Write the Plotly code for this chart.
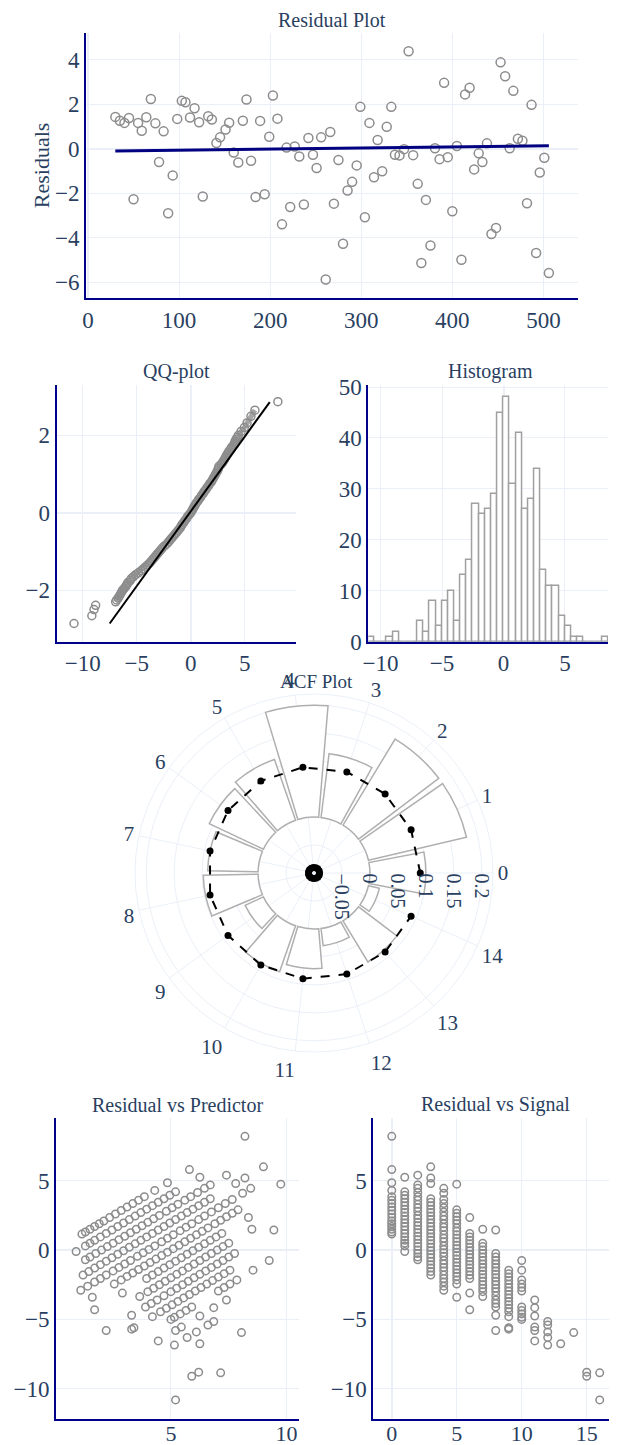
import plotly.graph_objects as go

# ---------------- data ----------------
ts_x = [30, 35, 40, 45, 50, 55, 59, 64, 69, 74, 78, 83, 88, 93, 98, 103, 107, 112, 117, 122,
        126, 132, 136, 141, 145, 151, 155, 160, 165, 170, 174, 179, 184, 189, 194, 199, 203, 208, 213, 218,
        222, 227, 232, 237, 242, 247, 251, 256, 261, 266, 270, 275, 280, 285, 290, 295, 299, 304, 309, 314,
        318, 323, 328, 333, 337, 342, 347, 352, 357, 362, 366, 371, 376, 381, 386, 391, 395, 400, 405, 410,
        414, 419, 424, 429, 433, 438, 443, 448, 453, 458, 463, 467, 472, 477, 482, 487, 492, 496, 501, 506]
ts_resid = [1.43, 1.26, 1.16, 1.38, -2.27, 1.16, 0.81, 1.41, 2.23, 1.14, -0.6, 0.78, -2.9, -1.2, 1.34,
            2.15, 2.09, 1.4, 1.82, 1.19, -2.15, 1.46, 1.31, 0.26, 0.51, 0.86, 1.17, -0.17, -0.62, 1.26,
            2.21, -0.54, -2.17, 1.25, -2.05, 0.54, 2.39, 1.35, -3.4, 0.05, -2.62, 0.1, -0.35, -2.51, 0.48,
            -0.27, -0.87, 0.51, -5.88, 0.75, -2.47, -0.51, -4.27, -1.88, -1.49, -0.75, 1.88, -3.08, 1.16, -1.28,
            0.39, -1.01, 0.99, 1.88, -0.27, -0.3, -0.02, 4.38, -0.29, -1.58, -5.14, -2.3, -4.35, 0.02, -0.47,
            2.96, -0.38, -2.81, 0.12, -4.99, 2.44, 2.74, -0.93, -0.21, -0.6, 0.24, -3.83, -3.56, 3.88, 3.26,
            0.02, 2.6, 0.45, 0.36, -2.45, 1.97, -4.69, -1.07, -0.41, -5.59]
trend_x = [30, 506]
trend_y = [-0.1, 0.13]

# QQ-plot: isolated tail points and the dense central band
qq_tail_sample = [-10.8, -9.15, -8.95, -8.8, 8.05]
qq_tail_theory = [-2.86, -2.66, -2.5, -2.39, 2.87]
qq_sample = [-6.95, -6.85, -6.7, -6.6, -6.5, -6.4, -6.3, -6.15, -6.0, -5.9,
             -5.8, -5.6, -5.5, -5.3, -5.1, -4.85, -4.6, -4.4, -4.2, -4.0,
             -3.8, -3.65, -3.5, -3.35, -3.2, -3.05, -2.9, -2.75, -2.6, -2.4,
             -2.2, -2.05, -1.9, -1.75, -1.6, -1.45, -1.3, -1.15, -1.0, -0.9,
             -0.8, -0.65, -0.55, -0.4, -0.3, -0.15, 0.0, 0.1, 0.2, 0.3,
             0.4, 0.5, 0.65, 0.75, 0.9, 1.0, 1.15, 1.25, 1.4, 1.5,
             1.65, 1.75, 1.9, 2.0, 2.1, 2.2, 2.3, 2.4, 2.5, 2.55,
             2.6, 2.8, 2.95, 3.05, 3.15, 3.25, 3.35, 3.45, 3.55, 3.7,
             3.8, 3.95, 4.05, 4.1, 4.2, 4.3, 4.4, 4.65, 4.95, 5.2,
             5.56, 5.93]
qq_theory = [-2.3, -2.25, -2.2, -2.15, -2.1, -2.05, -2.0, -1.95, -1.9, -1.85,
             -1.8, -1.75, -1.7, -1.65, -1.6, -1.55, -1.5, -1.45, -1.4, -1.35,
             -1.3, -1.25, -1.2, -1.15, -1.1, -1.05, -1.0, -0.95, -0.9, -0.85,
             -0.8, -0.75, -0.7, -0.65, -0.6, -0.55, -0.5, -0.45, -0.4, -0.35,
             -0.3, -0.25, -0.2, -0.15, -0.1, -0.05, 0.0, 0.05, 0.1, 0.15,
             0.2, 0.25, 0.3, 0.35, 0.4, 0.45, 0.5, 0.55, 0.6, 0.65,
             0.7, 0.75, 0.8, 0.85, 0.9, 0.95, 1.0, 1.05, 1.1, 1.15,
             1.2, 1.25, 1.3, 1.35, 1.4, 1.45, 1.5, 1.55, 1.6, 1.65,
             1.7, 1.75, 1.8, 1.85, 1.9, 1.95, 2.0, 2.1, 2.2, 2.32,
             2.49, 2.65]
qq_line_x = [-7.5, 7.3]
qq_line_y = [-2.86, 2.86]

hist_centers = [-10.75, -10.25, -9.75, -9.25, -8.75, -8.25, -7.75, -7.25, -6.75, -6.25,
                -5.75, -5.25, -4.75, -4.25, -3.75, -3.25, -2.75, -2.25, -1.75, -1.25,
                -0.75, -0.25, 0.25, 0.75, 1.25, 1.75, 2.25, 2.75, 3.25, 3.75,
                4.25, 4.75, 5.25, 5.75, 6.25, 6.75, 7.25, 7.75, 8.25]
hist_counts = [1, 0, 0, 1, 2, 0, 0, 0, 4, 2,
               8, 3, 8, 10, 4, 13, 16, 27, 25, 26,
               29, 45, 48, 31, 41, 26, 28, 34, 14, 11,
               11, 5, 3, 1, 1, 0, 0, 0, 1]

acf_lags = ["0", "1", "2", "3", "4", "5", "6", "7", "8", "9", "10", "11", "12", "13", "14"]
acf_vals = [0.10, 0.18, 0.18, 0.115, 0.20, 0.115, 0.107, 0.09, 0.098, 0.036, 0.087, 0.071, 0.031, 0.086, 0.02]
conf_upper = [0.09, 0.09, 0.09, 0.09, 0.09, 0.09, 0.09, 0.09, 0.09, 0.09, 0.09, 0.09, 0.09, 0.09, 0.09]
conf_lower = [-0.09, -0.09, -0.09, -0.09, -0.09, -0.09, -0.09, -0.09, -0.09, -0.09, -0.09, -0.09, -0.09, -0.09, -0.09]

signal = [
    0, 0, 0, 0, 0, 0, 0, 0, 0, 0, 0, 0, 0, 0, 0, 0, 0,
    1, 1, 1, 1, 1, 1, 1, 1, 1, 1, 1, 1, 1, 1, 1, 1, 1, 1, 1,
    2, 2, 2, 2, 2, 2, 2, 2, 2, 2, 2, 2, 2, 2, 2, 2, 2, 2, 2, 2, 2, 2, 2,
    3, 3, 3, 3, 3, 3, 3, 3, 3, 3, 3, 3, 3, 3, 3, 3, 3, 3, 3, 3, 3, 3, 3, 3, 3, 3,
    4, 4, 4, 4, 4, 4, 4, 4, 4, 4, 4, 4, 4, 4, 4, 4, 4, 4, 4, 4, 4, 4, 4, 4, 4, 4, 4,
    5, 5, 5, 5, 5, 5, 5, 5, 5, 5, 5, 5, 5, 5, 5, 5, 5, 5, 5, 5, 5, 5, 5, 5,
    6, 6, 6, 6, 6, 6, 6, 6, 6, 6, 6, 6, 6, 6, 6, 6, 6,
    7, 7, 7, 7, 7, 7, 7, 7, 7, 7, 7, 7, 7, 7, 7, 7, 7,
    8, 8, 8, 8, 8, 8, 8, 8, 8, 8, 8, 8, 8, 8, 8, 8, 8, 8, 8,
    9, 9, 9, 9, 9, 9, 9, 9, 9, 9, 9, 9, 9, 9, 9, 9,
    10, 10, 10, 10, 10, 10, 10, 10, 10, 10, 10,
    11, 11, 11, 11, 11, 11,
    12, 12, 12, 12, 12,
    13, 14, 15, 15, 16, 16]
residual = [
    8.2, 5.8, 4.85, 4.3, 3.85, 3.6, 3.35, 3.1, 2.85, 2.6, 2.35, 2.1, 1.9, 1.7, 1.5, 1.3, 1.15,
    5.25, 4.2, 3.95, 3.7, 3.45, 3.2, 2.95, 2.7, 2.45, 2.2, 1.95, 1.7, 1.45, 1.2, 0.95, 0.7, 0.5, 0.3, -0.1,
    5.4, 4.7, 4.45, 4.15, 3.85, 3.6, 3.3, 3.05, 2.8, 2.5, 2.25, 2.0, 1.75, 1.5, 1.25, 1.0, 0.75, 0.5, 0.25, 0.0, -0.25, -0.5, -0.7,
    6.0, 5.2, 4.8, 3.7, 3.45, 3.2, 2.95, 2.7, 2.45, 2.2, 1.95, 1.7, 1.45, 1.2, 0.95, 0.7, 0.45, 0.2, -0.05, -0.3, -0.55, -0.8, -1.05, -1.3, -1.55, -1.8,
    4.45, 4.1, 3.65, 3.35, 3.05, 2.75, 2.45, 2.2, 1.9, 1.65, 1.4, 1.1, 0.85, 0.6, 0.3, 0.05, -0.2, -0.45, -0.75, -1.0, -1.25, -1.5, -1.8, -2.05, -2.3, -2.6, -2.9,
    4.75, 2.9, 2.65, 2.4, 2.15, 1.9, 1.6, 1.35, 1.1, 0.85, 0.6, 0.35, 0.1, -0.15, -0.4, -0.65, -0.9, -1.15, -1.4, -1.65, -1.9, -2.15, -2.45, -3.4,
    2.35, 1.2, 0.95, 0.7, 0.45, 0.2, -0.05, -0.3, -0.55, -0.8, -1.05, -1.3, -1.55, -1.8, -2.05, -3.1, -4.3,
    1.5, 0.5, 0.25, 0.0, -0.25, -0.5, -0.75, -1.0, -1.25, -1.5, -1.75, -2.0, -2.25, -2.5, -2.75, -3.0, -3.35,
    1.45, -0.25, -0.5, -0.75, -1.0, -1.25, -1.5, -1.75, -2.0, -2.25, -2.5, -2.75, -3.0, -3.3, -3.6, -3.85, -4.1, -4.7, -5.8,
    -1.45, -1.7, -1.95, -2.2, -2.45, -2.7, -2.95, -3.2, -3.45, -3.7, -3.95, -4.2, -4.45, -4.8, -5.6, -5.7,
    -0.75, -1.45, -2.15, -2.45, -2.7, -2.95, -4.1, -4.35, -4.6, -4.85, -5.0,
    -3.6, -4.15, -4.75, -5.55, -5.8, -6.55,
    -5.15, -5.4, -5.9, -6.3, -6.85,
    -6.75, -5.95, -8.8, -9.1, -8.85, -10.8]
predictor = [
    8.2, 5.8, 4.85, 4.3, 3.85, 3.6, 3.35, 3.1, 2.85, 2.6, 2.35, 2.1, 1.9, 1.7, 1.5, 1.3, 1.15,
    6.25, 5.2, 4.95, 4.7, 4.45, 4.2, 3.95, 3.7, 3.45, 3.2, 2.95, 2.7, 2.45, 2.2, 1.95, 1.7, 1.5, 1.3, 0.9,
    7.4, 6.7, 6.45, 6.15, 5.85, 5.6, 5.3, 5.05, 4.8, 4.5, 4.25, 4.0, 3.75, 3.5, 3.25, 3.0, 2.75, 2.5, 2.25, 2.0, 1.75, 1.5, 1.3,
    9.0, 8.2, 7.8, 6.7, 6.45, 6.2, 5.95, 5.7, 5.45, 5.2, 4.95, 4.7, 4.45, 4.2, 3.95, 3.7, 3.45, 3.2, 2.95, 2.7, 2.45, 2.2, 1.95, 1.7, 1.45, 1.2,
    8.45, 8.1, 7.65, 7.35, 7.05, 6.75, 6.45, 6.2, 5.9, 5.65, 5.4, 5.1, 4.85, 4.6, 4.3, 4.05, 3.8, 3.55, 3.25, 3.0, 2.75, 2.5, 2.2, 1.95, 1.7, 1.4, 1.1,
    9.75, 7.9, 7.65, 7.4, 7.15, 6.9, 6.6, 6.35, 6.1, 5.85, 5.6, 5.35, 5.1, 4.85, 4.6, 4.35, 4.1, 3.85, 3.6, 3.35, 3.1, 2.85, 2.55, 1.6,
    8.35, 7.2, 6.95, 6.7, 6.45, 6.2, 5.95, 5.7, 5.45, 5.2, 4.95, 4.7, 4.45, 4.2, 3.95, 2.9, 1.7,
    8.5, 7.5, 7.25, 7.0, 6.75, 6.5, 6.25, 6.0, 5.75, 5.5, 5.25, 5.0, 4.75, 4.5, 4.25, 4.0, 3.65,
    9.45, 7.75, 7.5, 7.25, 7.0, 6.75, 6.5, 6.25, 6.0, 5.75, 5.5, 5.25, 5.0, 4.7, 4.4, 4.15, 3.9, 3.3, 2.2,
    7.55, 7.3, 7.05, 6.8, 6.55, 6.3, 6.05, 5.8, 5.55, 5.3, 5.05, 4.8, 4.55, 4.2, 3.4, 3.3,
    9.25, 8.55, 7.85, 7.55, 7.3, 7.05, 5.9, 5.65, 5.4, 5.15, 5.0,
    7.4, 6.85, 6.25, 5.45, 5.2, 4.45,
    6.85, 6.6, 6.1, 5.7, 5.15,
    6.25, 8.05, 6.2, 5.9, 7.15, 5.2]

# ---------------- style ----------------
# the page body has an 8px margin: figure pixel = page pixel - 8
OFF = 8
W, H = 617 - OFF, 1445 - OFF
FONT = "Liberation Serif"
TXT = "#2a3f5f"
AXC = "#00008b"
GRID = "#EBF0F8"
MK = "rgb(140,140,140)"
TICK = 23


def dx(a, b):
    return [(a - OFF) / W, (b - OFF) / W]


def dy(top, bottom):
    return [1 - (bottom - OFF) / H, 1 - (top - OFF) / H]


def ax(domain, anchor, rng, **kw):
    d = dict(domain=domain, anchor=anchor, range=rng, showline=True, linecolor=AXC, linewidth=2,
             gridcolor=GRID, zeroline=True, zerolinecolor=GRID, zerolinewidth=2, ticks="",
             automargin=False, tickfont=dict(family=FONT, size=TICK, color=TXT), mirror=False)
    d.update(kw)
    return d


def open_marker(size):
    return dict(symbol="circle-open", size=size, color=MK, line=dict(width=1.5, color=MK))


fig = go.Figure()

fig.add_trace(go.Scatter(x=ts_x, y=ts_resid, mode="markers", marker=open_marker(9),
                         xaxis="x", yaxis="y"))
fig.add_trace(go.Scatter(x=trend_x, y=trend_y, mode="lines", line=dict(color="#000080", width=3),
                         xaxis="x", yaxis="y"))

fig.add_trace(go.Scatter(x=qq_sample, y=qq_theory, mode="lines+markers", marker=open_marker(8),
                         line=dict(color="rgb(165,165,165)", width=5),
                         xaxis="x2", yaxis="y2"))
fig.add_trace(go.Scatter(x=qq_tail_sample, y=qq_tail_theory, mode="markers", marker=open_marker(8),
                         xaxis="x2", yaxis="y2"))
fig.add_trace(go.Scatter(x=qq_line_x, y=qq_line_y, mode="lines", line=dict(color="black", width=2),
                         xaxis="x2", yaxis="y2"))

fig.add_trace(go.Bar(x=hist_centers, y=hist_counts, width=0.5,
                     marker=dict(color="white", line=dict(color="rgb(160,160,160)", width=1.5)),
                     xaxis="x3", yaxis="y3"))

fig.add_trace(go.Barpolar(r=acf_vals, theta=acf_lags, base=0,
                          marker=dict(color="white", line=dict(color="rgb(175,175,175)", width=1.5)),
                          subplot="polar"))
fig.add_trace(go.Scatterpolar(r=conf_upper, theta=acf_lags, mode="lines+markers",
                              line=dict(color="black", dash="dash", width=2),
                              marker=dict(color="black", size=7), subplot="polar"))
fig.add_trace(go.Scatterpolar(r=conf_lower, theta=acf_lags, mode="lines+markers",
                              line=dict(color="black", dash="dash", width=2),
                              marker=dict(color="black", size=7), subplot="polar"))

fig.add_trace(go.Scatter(x=predictor, y=residual, mode="markers", marker=open_marker(7.5),
                         xaxis="x4", yaxis="y4"))
fig.add_trace(go.Scatter(x=signal, y=residual, mode="markers", marker=open_marker(7.5),
                         xaxis="x5", yaxis="y5"))

top_x, top_y = dx(86, 578), dy(33, 298)
qq_x, row2_y = dx(56.7, 295.7), dy(385, 641.7)
hi_x = dx(368.3, 608)
pr_x, row4_y = dx(56, 299.3), dy(1118.3, 1419.3)
sg_x = dx(373.3, 617)
po_x, po_y = dx(135, 493), dy(694, 1052)

bottom_tickfont = dict(family=FONT, size=22, color=TXT)

fig.update_layout(
    width=W, height=H, template="plotly_white", showlegend=False,
    margin=dict(l=0, r=0, t=0, b=0), paper_bgcolor="white", plot_bgcolor="white",
    font=dict(family=FONT, color=TXT),
    bargap=0,
    xaxis=ax(top_x, "y", [-2.2, 538], tickvals=[0, 100, 200, 300, 400, 500]),
    yaxis=ax(top_y, "x", [-6.71, 5.2], tickvals=[-6, -4, -2, 0, 2, 4]),
    xaxis2=ax(qq_x, "y2", [-12.4, 9.7], tickvals=[-10, -5, 0, 5]),
    yaxis2=ax(row2_y, "x2", [-3.33, 3.3], tickvals=[-2, 0, 2]),
    xaxis3=ax(hi_x, "y3", [-11, 8.5], tickvals=[-10, -5, 0, 5]),
    yaxis3=ax(row2_y, "x3", [0, 50.4], tickvals=[0, 10, 20, 30, 40, 50]),
    xaxis4=ax(pr_x, "y4", [0.03, 10.55], tickvals=[5, 10], ticklabelstandoff=-7,
              tickfont=bottom_tickfont),
    yaxis4=ax(row4_y, "x4", [-12.2, 9.5], tickvals=[-10, -5, 0, 5]),
    xaxis5=ax(sg_x, "y5", [-1.42, 17.33], tickvals=[0, 5, 10, 15], ticklabelstandoff=-7,
              tickfont=bottom_tickfont),
    yaxis5=ax(row4_y, "x5", [-12.2, 9.5], tickvals=[-10, -5, 0, 5]),
    polar=dict(
        domain=dict(x=po_x, y=po_y), bgcolor="white", bargap=0.1,
        angularaxis=dict(type="category", categoryarray=acf_lags, direction="counterclockwise",
                         rotation=0, gridcolor=GRID, linecolor=GRID, showline=True, ticks="",
                         tickfont=dict(family=FONT, size=21, color=TXT)),
        radialaxis=dict(range=[-0.1, 0.22], tickvals=[-0.05, 0, 0.05, 0.1, 0.15, 0.2],
                        tickangle=90, gridcolor=GRID, showline=False, ticks="",
                        tickfont=dict(family=FONT, size=20, color=TXT)),
    ),
)

titles = [
    ("Residual Plot", (top_x[0] + top_x[1]) / 2, top_y[1], 20),
    ("QQ-plot", (qq_x[0] + qq_x[1]) / 2, row2_y[1], 20),
    ("Histogram", (490 - OFF) / W, row2_y[1], 20),
    ("ACF Plot", (316 - OFF) / W, po_y[1], 19),
    ("Residual vs Predictor", (pr_x[0] + pr_x[1]) / 2, row4_y[1], 20),
    ("Residual vs Signal", (sg_x[0] + sg_x[1]) / 2, row4_y[1], 20),
]
for text, x, y, size in titles:
    fig.add_annotation(text=text, x=x, y=y, xref="paper", yref="paper", xanchor="center",
                       yanchor="bottom", showarrow=False, font=dict(family=FONT, size=size, color=TXT))

fig.add_annotation(text="Residuals", x=(41.7 - OFF) / W, y=(top_y[0] + top_y[1]) / 2, xref="paper",
                   yref="paper", xanchor="center", yanchor="middle", textangle=-90, showarrow=False,
                   font=dict(family=FONT, size=22, color=TXT))

fig.write_html("out.html")
